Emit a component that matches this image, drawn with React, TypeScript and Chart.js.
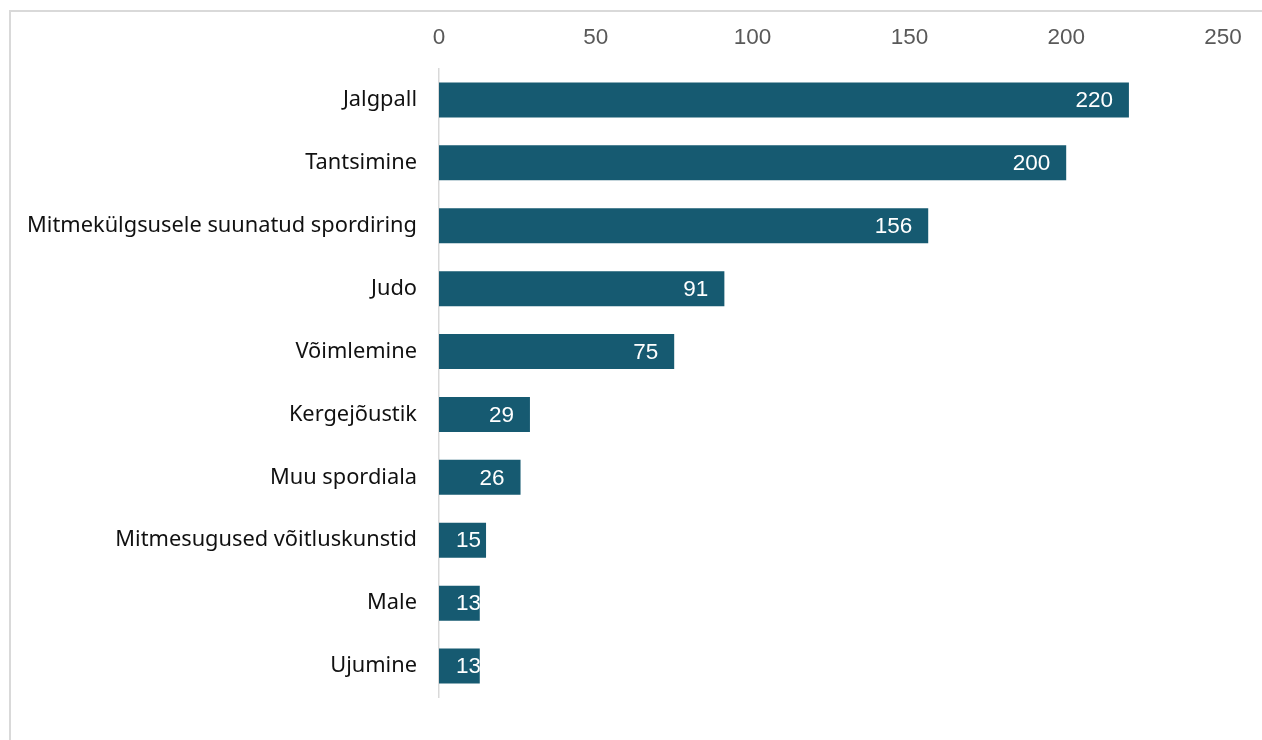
import React, { useEffect, useRef } from "react";
import { Chart, registerables } from "chart.js";

Chart.register(...registerables);

const categories = [
  "Jalgpall",
  "Tantsimine",
  "Mitmekülgsusele suunatud spordiring",
  "Judo",
  "Võimlemine",
  "Kergejõustik",
  "Muu spordiala",
  "Mitmesugused võitluskunstid",
  "Male",
  "Ujumine",
];
const values = [220, 200, 156, 91, 75, 29, 26, 15, 13, 13];
const xTicks = [0, 50, 100, 150, 200, 250];

const BAR_COLOR = "#165a71";
const NUM_FONT = "'Liberation Sans', Arial, sans-serif";

const labelPlugin = {
  id: "insideEndLabels",
  afterDatasetsDraw(chart: any) {
    const ctx = chart.ctx;
    const meta = chart.getDatasetMeta(0);
    ctx.save();
    ctx.font = "22.5px " + NUM_FONT;
    ctx.fillStyle = "#ffffff";
    ctx.textAlign = "right";
    ctx.textBaseline = "middle";
    meta.data.forEach((bar: any, i: number) => {
      const txt = String(values[i]);
      const w = ctx.measureText(txt).width;
      const start = bar.base;
      const end = bar.x;
      const right = Math.max(end - 16, start + 17 + w);
      ctx.save();
      ctx.beginPath();
      ctx.rect(start, bar.y - bar.height / 2, end - start, bar.height);
      ctx.clip();
      ctx.fillText(txt, right, bar.y + 1);
      ctx.restore();
    });
    ctx.restore();
  },
};

export default function App() {
  const ref = useRef<HTMLCanvasElement>(null);
  useEffect(() => {
    if (!ref.current) return;
    const chart = new Chart(ref.current, {
      type: "bar",
      data: {
        labels: categories,
        datasets: [
          {
            data: values,
            backgroundColor: BAR_COLOR,
            barPercentage: 0.556,
            categoryPercentage: 1,
          },
        ],
      },
      options: {
        indexAxis: "y",
        animation: false,
        responsive: false,
        maintainAspectRatio: false,
        layout: { padding: { left: 0, right: 39, top: 0, bottom: 42.5 } },
        plugins: { legend: { display: false }, tooltip: { enabled: false } },
        scales: {
          x: {
            position: "top",
            min: 0,
            max: 250,
            afterBuildTicks: (scale: any) => {
              scale.ticks = xTicks.map((v) => ({ value: v }));
            },
            afterFit: (scale: any) => {
              scale.height = 68.5;
            },
            grid: { display: false, drawTicks: false },
            border: { display: false },
            ticks: {
              color: "#595959",
              font: { family: NUM_FONT, size: 22.5 },
              padding: 17,
            },
          },
          y: {
            afterFit: (scale: any) => {
              scale.width = 439;
            },
            grid: { display: false, drawTicks: false },
            border: { display: true, color: "#d9d9d9", width: 1.5 },
            ticks: {
              color: "#111111",
              font: { family: "'Noto Sans', sans-serif", size: 21.8 },
              padding: 22,
            },
          },
        },
      },
      plugins: [labelPlugin],
    });
    return () => chart.destroy();
  }, []);
  return (
    <div
      style={{
        position: "fixed",
        left: 0,
        top: 0,
        width: 1262,
        height: 740,
        overflow: "hidden",
        background: "#ffffff",
      }}
    >
      <div
        style={{
          position: "absolute",
          left: 9,
          top: 10,
          width: 1400,
          height: 900,
          borderLeft: "2px solid #d9d9d9",
          borderTop: "2px solid #d9d9d9",
        }}
      />
      <canvas
        ref={ref}
        width={1262}
        height={740}
        style={{ position: "absolute", left: 0, top: 0, width: 1262, height: 740 }}
      />
    </div>
  );
}
